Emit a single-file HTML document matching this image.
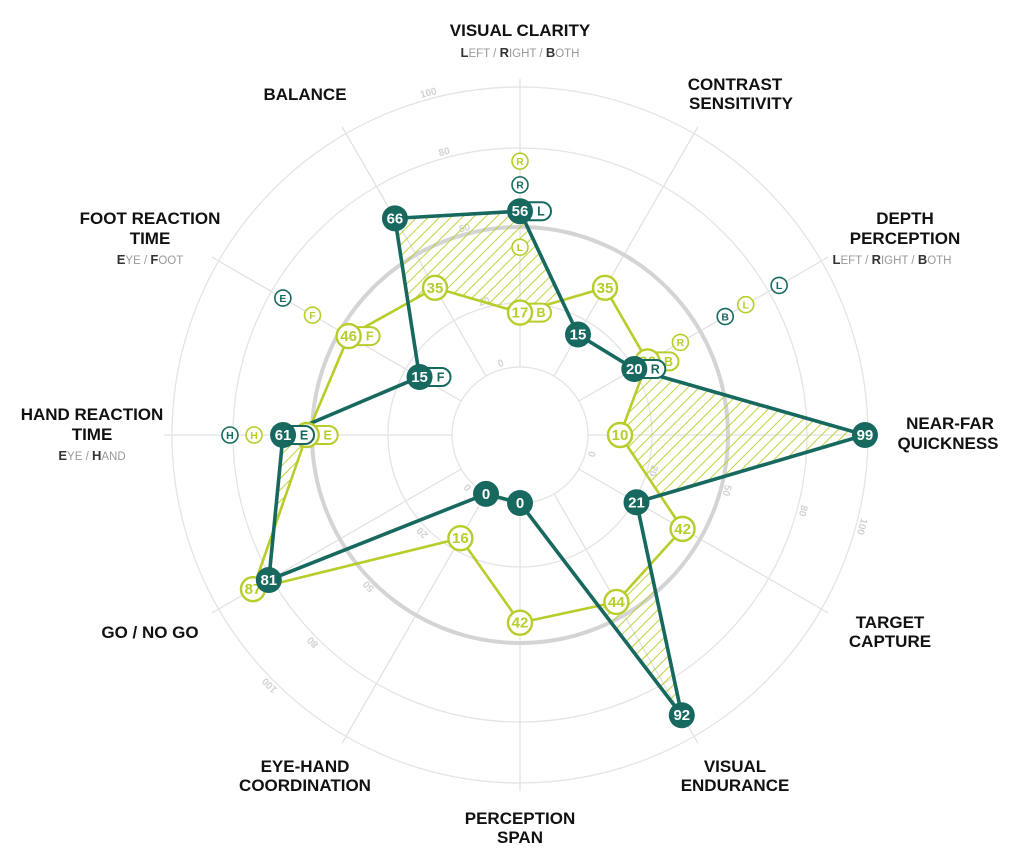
<!DOCTYPE html>
<html><head><meta charset="utf-8"><style>
html,body{margin:0;padding:0;background:#fff;}
svg{display:block;font-family:"Liberation Sans",Arial,sans-serif;}
.cat{font-size:17px;font-weight:bold;fill:#111;text-anchor:middle;}
.sub{font-size:11.5px;fill:#999;text-anchor:middle;}
.sub tspan.b{fill:#333;font-weight:bold;font-size:13px;}
.tick{font-size:10px;font-weight:bold;fill:#d2d2d2;text-anchor:middle;}
</style></head><body>
<svg id="chart" width="1024" height="862" viewBox="0 0 1024 862">
<defs>
<pattern id="hatch" patternUnits="userSpaceOnUse" width="8" height="8" patternTransform="rotate(45)">
<line x1="0" y1="0" x2="0" y2="8" stroke="#b8cc2a" stroke-width="1.8"/>
</pattern>
</defs>
<g id="grid"></g>
<g id="labels">
<text class="cat" x="520" y="36">VISUAL CLARITY</text>
<text class="sub" x="520" y="57"><tspan class="b">L</tspan>EFT / <tspan class="b">R</tspan>IGHT / <tspan class="b">B</tspan>OTH</text>
<text class="cat" x="735" y="90">CONTRAST<tspan x="741" dy="19">SENSITIVITY</tspan></text>
<text class="cat" x="905" y="224">DEPTH<tspan x="905" dy="20">PERCEPTION</tspan></text>
<text class="sub" x="892" y="264"><tspan class="b">L</tspan>EFT / <tspan class="b">R</tspan>IGHT / <tspan class="b">B</tspan>OTH</text>
<text class="cat" x="950" y="429">NEAR-FAR<tspan x="948" dy="20">QUICKNESS</tspan></text>
<text class="cat" x="890" y="628">TARGET<tspan x="890" dy="19">CAPTURE</tspan></text>
<text class="cat" x="735" y="772">VISUAL<tspan x="735" dy="19">ENDURANCE</tspan></text>
<text class="cat" x="520" y="824">PERCEPTION<tspan x="520" dy="19">SPAN</tspan></text>
<text class="cat" x="305" y="772">EYE-HAND<tspan x="305" dy="19">COORDINATION</tspan></text>
<text class="cat" x="150" y="638">GO / NO GO</text>
<text class="cat" x="92" y="420">HAND REACTION<tspan x="92" dy="20">TIME</tspan></text>
<text class="sub" x="92" y="460"><tspan class="b">E</tspan>YE / <tspan class="b">H</tspan>AND</text>
<text class="cat" x="150" y="224">FOOT REACTION<tspan x="150" dy="20">TIME</tspan></text>
<text class="sub" x="150" y="264"><tspan class="b">E</tspan>YE / <tspan class="b">F</tspan>OOT</text>
<text class="cat" x="305" y="100">BALANCE</text>
</g>
<g id="plot"></g>
</svg>
<script>
const categories = ["Visual Clarity","Contrast Sensitivity","Depth Perception","Near-Far Quickness","Target Capture","Visual Endurance","Perception Span","Eye-Hand Coordination","Go / No Go","Hand Reaction Time","Foot Reaction Time","Balance"];
const darkValues = [56,15,20,99,21,92,0,0,81,61,15,66];
const limeValues = [17,35,26,10,42,44,42,16,87,52,46,35];
const darkBadges = {0:"L",2:"R",9:"E",10:"F"};
const limeBadges = {0:"B",2:"B",9:"E",10:"F"};
// sub-score markers: [axisIndex, value, letter]
const darkSubs = [[0,66,"R"],[2,84,"L"],[2,61,"B"],[10,75,"E"],[9,81,"H"]];
const limeSubs = [[0,75,"R"],[0,42,"L"],[2,70,"L"],[2,41,"R"],[10,62,"F"],[9,72,"H"]];
const tickValues = [0,20,50,80,100];
const tickLabels = ["0","20","50","80","100"];

const NS="http://www.w3.org/2000/svg";
const CX=520, CY=435;
const DARK="#17695f", LIME="#b8cc2a";
const scaleDomain=[0,20,50,80,100], scaleRange=[68,132,208,287,348];
function rScale(v){
  for(let i=1;i<scaleDomain.length;i++){
    if(v<=scaleDomain[i]){const t=(v-scaleDomain[i-1])/(scaleDomain[i]-scaleDomain[i-1]);return scaleRange[i-1]+t*(scaleRange[i]-scaleRange[i-1]);}
  }
  return scaleRange[scaleRange.length-1];
}
function angle(i){return i*2*Math.PI/categories.length;}
function pt(i,v){const r=rScale(v),a=angle(i);return [CX+r*Math.sin(a),CY-r*Math.cos(a)];}
function mk(tag,attrs,parent){const e=document.createElementNS(NS,tag);for(const k in attrs)e.setAttribute(k,attrs[k]);parent.appendChild(e);return e;}

const grid=document.getElementById('grid');
categories.forEach((c,i)=>{
  const a=angle(i);
  const l=mk('line',{x1:CX+68*Math.sin(a),y1:CY-68*Math.cos(a),x2:CX+356*Math.sin(a),y2:CY-356*Math.cos(a),stroke:"#e0e0e0","stroke-width":1.2},grid);
  
  
});
tickValues.forEach((v,j)=>{
  const c=mk('circle',{cx:CX,cy:CY,r:rScale(v),fill:"none",stroke:v===50?"#d4d4d4":"#e4e4e4","stroke-width":v===50?4:1.3},grid);
  
  
  [345,105,225].forEach(deg=>{
    const a=deg*Math.PI/180, r=rScale(v);
    const x=CX+r*Math.sin(a), y=CY-r*Math.cos(a);
    const t=mk('text',{x:x,y:y,class:"tick",transform:`rotate(${deg>180?deg-360:deg} ${x} ${y})`,dy:"-3"},grid);
    t.textContent=tickLabels[j];
    
    
  });
});

const plot=document.getElementById('plot');
const darkPts=darkValues.map((v,i)=>pt(i,v));
const limePts=limeValues.map((v,i)=>pt(i,v));
const ds=darkPts.map(p=>p.join(',')).join(' ');
const ls=limePts.map(p=>p.join(',')).join(' ');
const defs=document.querySelector('defs');
const cp=mk('clipPath',{id:'darkClip'},defs);mk('polygon',{points:ds},cp);
const mask=mk('mask',{id:'limeMask',maskUnits:'userSpaceOnUse',x:0,y:0,width:1024,height:862},defs);
mk('rect',{x:0,y:0,width:1024,height:862,fill:'#fff'},mask);
mk('polygon',{points:ls,fill:'#000'},mask);
const hg=mk('g',{mask:'url(#limeMask)'},plot);
const h=mk('rect',{x:0,y:0,width:1024,height:862,fill:'url(#hatch)','clip-path':'url(#darkClip)'},hg);


const lp=mk('polygon',{points:ls,fill:'none',stroke:LIME,'stroke-width':2.6,'stroke-linejoin':'round'},plot);


const dp=mk('polygon',{points:ds,fill:'none',stroke:DARK,'stroke-width':3.6,'stroke-linejoin':'round'},plot);



function sub(list,color){
  list.forEach(([i,v,l])=>{
    const [x,y]=pt(i,v);
    const g=mk('g',{},plot);
    
    
    mk('circle',{cx:x,cy:y,r:8,fill:'#fff',stroke:color,'stroke-width':1.6},g);
    const t=mk('text',{x:x,y:y+3.8,'text-anchor':'middle','font-size':10.5,'font-weight':'bold',fill:color},g);
    t.textContent=l;
  });
}
sub(limeSubs,LIME);sub(darkSubs,DARK);

function dots(vals,pts,badges,color,filled){
  vals.forEach((v,i)=>{
    const [x,y]=pts[i];
    const g=mk('g',{},plot);
    
    
    if(badges[i]){
      mk('rect',{x:x,y:y-9,width:31,height:18,rx:9,fill:'#fff',stroke:color,'stroke-width':2},g);
      const bt=mk('text',{x:x+21,y:y+4.5,'text-anchor':'middle','font-size':12.5,'font-weight':'bold',fill:color},g);
      bt.textContent=badges[i];
    }
    mk('circle',{cx:x,cy:y,r:filled?13:12,fill:filled?color:'#fff',stroke:color,'stroke-width':filled?0:2.4},g);
    const t=mk('text',{x:x,y:y+5,'text-anchor':'middle','font-size':15,'font-weight':'bold',fill:filled?'#fff':color},g);
    t.textContent=v;
  });
}
dots(limeValues,limePts,limeBadges,LIME,false);
dots(darkValues,darkPts,darkBadges,DARK,true);
</script>
</body></html>
